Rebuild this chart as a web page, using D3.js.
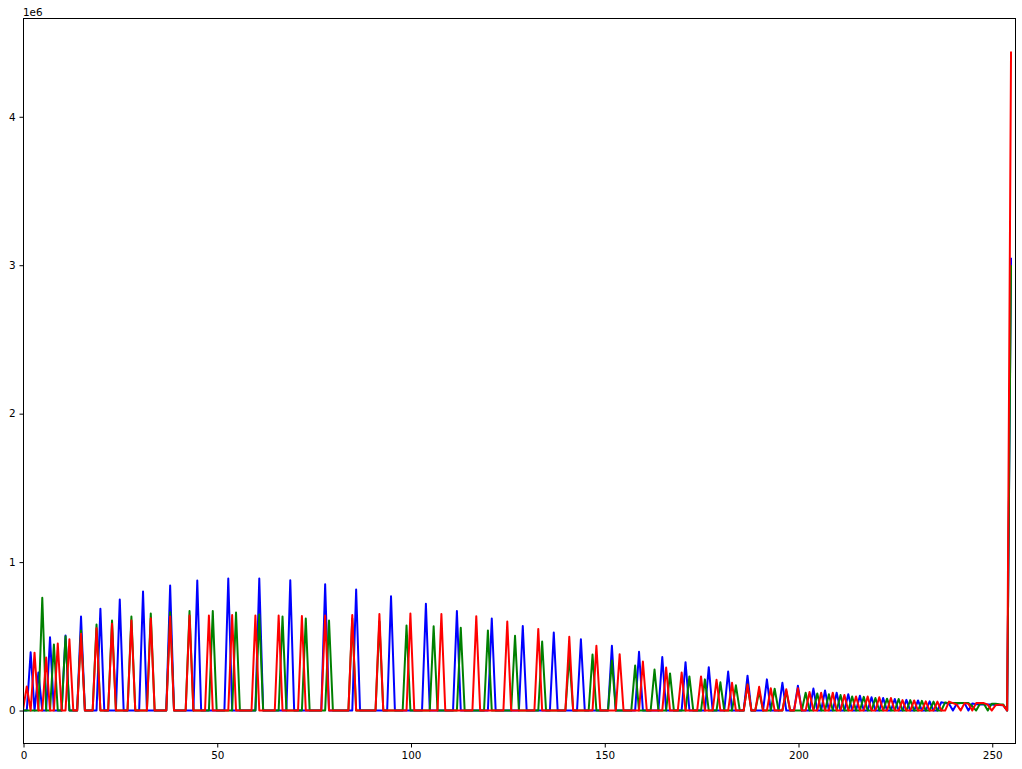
<!DOCTYPE html>
<html><head><meta charset="utf-8">
<script src="https://cdn.jsdelivr.net/npm/d3@7"></script>
<style>html,body{margin:0;padding:0;background:#fff}svg{display:block}</style>
</head><body><svg id="c" width="1022" height="769"></svg>
<script>
const xTicks=[0,50,100,150,200,250];
const yTicks=[0,1e6,2e6,3e6,4e6];
const binCount=256;
const blueBins=[2,4,7,11,15,20,25,31,38,45,53,61,69,78,86,95,104,112,121,129,137,144,152,159,165,171,177,182,187,192,196,200,204,207,210,213,216,219,222,225,228,231,234,237,238,239,241,242,243,245,246,247,248,249,250,251,252,253,255];
const blueVals=[393,256,494,506,634,686,748,802,843,876,890,890,877,850,815,770,720,670,620,570,525,480,436,396,360,326,292,263,235,210,187,167,148,135,120,110,100,90,85,78,72,68,62,56,50,45,45,50,50,48,42,40,40,40,40,38,38,36,3050].map(d=>d*1000);
const greenBins=[5,8,11,15,19,23,28,33,38,43,49,55,61,67,73,79,85,92,99,106,113,120,127,134,141,147,152,158,163,167,172,176,180,184,187,190,194,197,202,205,208,211,214,217,220,223,226,229,232,235,238,239,240,241,242,243,244,245,247,248,250,251,252,253,255];
const greenVals=[760,445,500,540,580,607,634,654,663,670,670,660,647,634,620,607,620,600,573,568,558,540,504,465,370,377,337,303,276,250,230,210,190,170,175,130,147,130,120,115,110,105,95,92,85,80,78,70,65,60,55,50,50,50,50,50,50,30,45,45,45,45,42,40,3000].map(d=>d*1000);
const redBins=[1,3,6,9,12,15,19,23,28,33,38,43,48,54,60,66,72,78,85,92,100,108,117,125,133,141,148,154,160,166,170,175,179,183,187,190,193,197,200,203,206,209,212,215,218,221,224,227,230,233,236,239,240,241,243,244,246,247,248,249,251,252,253,255];
const redVals=[162,390,357,452,480,518,555,585,607,622,634,640,640,643,640,640,637,640,643,650,654,650,636,600,550,497,436,380,330,290,256,230,207,187,175,160,150,144,150,125,120,120,105,95,95,90,85,70,68,62,60,60,50,40,50,45,50,50,50,40,35,40,35,4440].map(d=>d*1000);

function toSeries(bins,vals){const s=new Array(binCount).fill(0);bins.forEach((b,i)=>{s[b]=vals[i];});return s;}
const series=[[toSeries(blueBins,blueVals),"#0000ff"],[toSeries(greenBins,greenVals),"#008000"],[toSeries(redBins,redVals),"#ff0000"]];

const L=23.5,R=1015.5,T=18.5,B=743.5;
const x=d3.scaleLinear().domain([0,256]).range([L,R]);
const xData=d3.scaleLinear().domain([0,256]).range([L-0.6,R-0.6]);
const peak=4.44e6;
const y=d3.scaleLinear().domain([-0.05*peak,1.05*peak]).range([B,T]);
const svg=d3.select("#c");
svg.append("defs").append("clipPath").attr("id","clip").append("rect").attr("x",L).attr("y",T).attr("width",R-L).attr("height",B-T);
const line=d3.line().x((d,i)=>xData(i)).y(d=>y(d));
const g=svg.append("g").attr("clip-path","url(#clip)");
series.forEach(([s,c])=>g.append("path").attr("d",line(s)).attr("fill","none").attr("stroke",c).attr("stroke-width",2).attr("stroke-linejoin","round"));
const font="'DejaVu Sans'";
const ax=svg.append("g").attr("transform",`translate(0,${B})`).call(d3.axisBottom(x).tickValues(xTicks).tickFormat(d3.format("d")).tickSize(4).tickPadding(4));
const ay=svg.append("g").attr("transform",`translate(${L},0)`).call(d3.axisLeft(y).tickValues(yTicks).tickFormat(d=>d/1e6).tickSize(4).tickPadding(4));
[ax,ay].forEach(a=>{a.select(".domain").remove();a.selectAll("text").attr("font-family",font).attr("font-size",10.4).attr("fill","#000");a.selectAll("line").attr("stroke","#000").attr("stroke-width",1);});
svg.append("rect").attr("x",L).attr("y",T).attr("width",R-L).attr("height",B-T).attr("fill","none").attr("stroke","#000").attr("stroke-width",1);
svg.append("text").attr("x",23).attr("y",16).attr("font-family",font).attr("font-size",10.4).attr("fill","#000").text("1e6");
</script></body></html>
